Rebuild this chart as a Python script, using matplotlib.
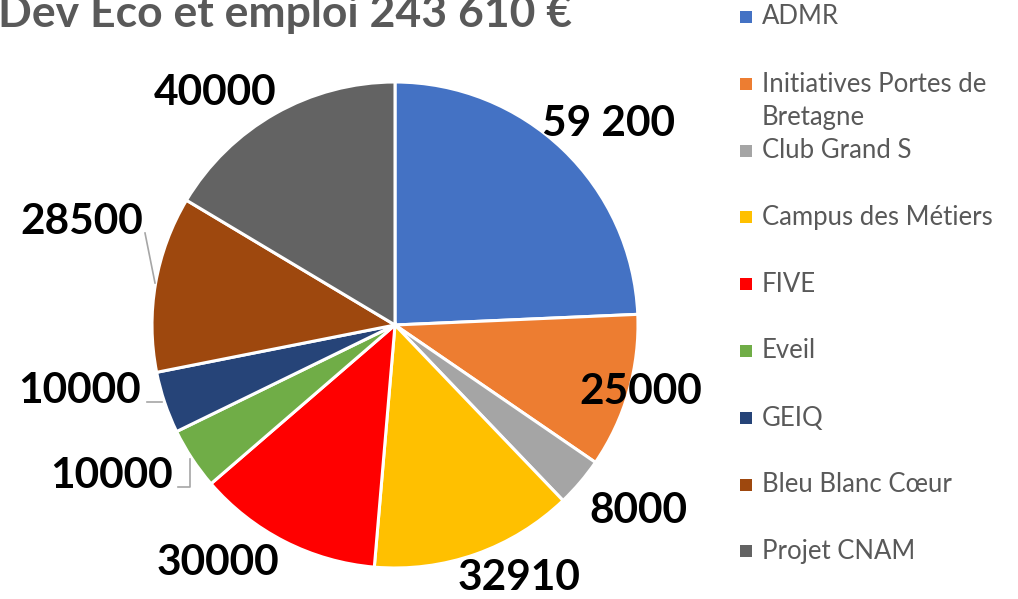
import matplotlib.pyplot as plt
from matplotlib.patches import Rectangle

# data
categories = ["ADMR", "Initiatives Portes de\nBretagne", "Club Grand S", "Campus des Métiers",
              "FIVE", "Eveil", "GEIQ", "Bleu Blanc Cœur", "Projet CNAM"]
values = [59200, 25000, 8000, 32910, 30000, 10000, 10000, 28500, 40000]
value_labels = ["59 200", "25000", "8000", "32910", "30000", "10000", "10000", "28500", "40000"]
title = "Dev Eco et emploi 243 610 €"

colors = ["#4472C4", "#ED7D31", "#A5A5A5", "#FFC000", "#FF0000",
          "#70AD47", "#264478", "#9E480E", "#636363"]

plt.rcParams['font.family'] = ['Lato', 'DejaVu Sans']

W, H = 1018, 599
fig = plt.figure(figsize=(W / 100, H / 100), dpi=100)

# pie centre / radius in pixels
cx, cy, r = 395, 325, 243
ax = fig.add_axes([(cx - r) / W, (H - cy - r) / H, 2 * r / W, 2 * r / H])
ax.pie(values, colors=colors, startangle=90, counterclock=False,
       wedgeprops=dict(edgecolor="white", linewidth=2.2))
ax.set_xlim(-1, 1)
ax.set_ylim(-1, 1)
ax.set_aspect("equal")
ax.axis("off")

def px(x, y):
    return (x - cx) / r, (cy - y) / r

# label positions (pixel centres in the picture)
label_pos = [(608, 124), (641, 392), (638, 511), (519, 578), (218, 563),
             (112, 476), (80, 391), (82, 222), (215, 93)]
for lab, (x, y) in zip(value_labels, label_pos):
    ax.text(*px(x, y), lab, ha="center", va="center", fontsize=30.5,
            fontweight="bold", color="black", clip_on=False)

# leader lines
lc = "#A6A6A6"
for pts in [[(145, 233), (155, 283)],
            [(147, 402), (162, 402)],
            [(178, 487), (190, 487), (190, 459)]]:
    xs, ys = zip(*[px(a, b) for a, b in pts])
    ax.plot(xs, ys, color=lc, lw=1.2, clip_on=False)

# title (cut at the top edge, as in the source)
fig.text(-0.002, 1 - 27 / H, title, ha="left", va="baseline", fontsize=32,
         fontweight="bold", color="#595959")

# legend
leg_y = [17, 84, 151, 217, 284, 351, 418, 485, 551]
for cat, col, y in zip(categories, colors, leg_y):
    fig.patches.append(Rectangle((740 / W, 1 - (y + 6) / H), 12 / W, 12 / H,
                                 facecolor=col, edgecolor="none",
                                 transform=fig.transFigure))
    for k, line in enumerate(cat.split("\n")):
        fig.text(762 / W, 1 - (y + 34 * k) / H, line, ha="left", va="center",
                 fontsize=18.5, color="#595959")

fig.savefig("out.png", dpi=100)
